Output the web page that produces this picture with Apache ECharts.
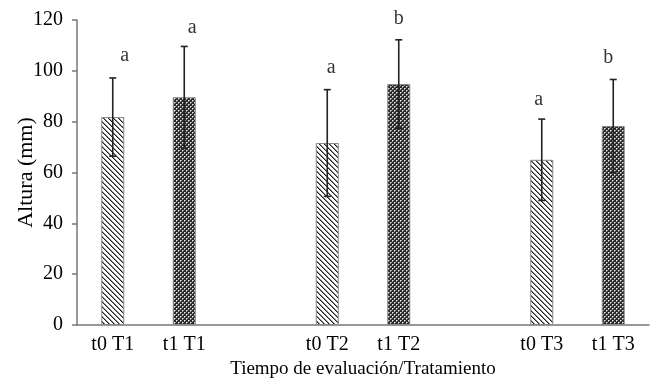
<!DOCTYPE html>
<html>
<head>
<meta charset="utf-8">
<script src="https://cdn.jsdelivr.net/npm/echarts@6/dist/echarts.min.js"></script>
<style>html,body{margin:0;padding:0;background:#fff}#c{width:652px;height:380px}</style>
</head>
<body>
<div id="c"></div>
<script>
// ---- data ----
const categories = ['t0 T1', 't1 T1', '', 't0 T2', 't1 T2', '', 't0 T3', 't1 T3'];
const means = [81.8, 89.6, null, 71.6, 94.8, null, 65.0, 78.3];
const sds = [15.4, 20.0, null, 21.0, 17.4, null, 16.0, 18.3];
const letters = ['a', 'a', '', 'a', 'b', '', 'a', 'b'];
const letterY = [105.9, 116.9, null, 101.1, 120.3, null, 88.6, 105.1];
const yTicks = [0, 20, 40, 60, 80, 100, 120];

// ---- styles ----
const labelDx = [12, 8, 0, 4, 0, 0, -3, -5];
const FONT = 'Liberation Serif';

function hatch() {
  const n = 5;
  const c = document.createElement('canvas');
  c.width = n; c.height = n;
  const g = c.getContext('2d');
  g.fillStyle = '#fff'; g.fillRect(0, 0, n, n);
  for (let i = 0; i < n; i++) {
    g.fillStyle = '#222'; g.fillRect(i, i, 1, 1);
    g.fillStyle = '#888'; g.fillRect((i + 1) % n, i, 1, 1);
  }
  return c;
}
function cross() {
  const c = document.createElement('canvas');
  c.width = 4; c.height = 4;
  const g = c.getContext('2d');
  g.fillStyle = '#2a2a2a'; g.fillRect(0, 0, 4, 4);
  g.fillStyle = '#e8e8e8';
  g.fillRect(0, 0, 1, 1); g.fillRect(2, 2, 1, 1);
  g.fillStyle = '#999';
  g.fillRect(1, 0, 1, 1); g.fillRect(0, 1, 1, 1); g.fillRect(3, 2, 1, 1); g.fillRect(2, 3, 1, 1);
  return c;
}
const hatchPat = { image: hatch(), repeat: 'repeat' };
const crossPat = { image: cross(), repeat: 'repeat' };

const barData = means.map((v, i) => v == null ? null : {
  value: v,
  itemStyle: { color: categories[i].startsWith('t0') ? hatchPat : crossPat }
});
const errData = means.map((v, i) => v == null ? null : [i, v - sds[i], v + sds[i]]).filter(d => d);
const letterData = letterY.map((v, i) => v == null ? null : {
  value: [i, v],
  label: { offset: [labelDx[i], 0], formatter: letters[i] }
}).filter(d => d);

const chart = echarts.init(document.getElementById('c'), null, { renderer: 'canvas' });
chart.setOption({
  animation: false,
  backgroundColor: '#fff',
  grid: { left: 77, right: 3, top: 20, bottom: 55, containLabel: false, outerBoundsMode: 'none' },
  xAxis: {
    type: 'category',
    data: categories,
    name: 'Tiempo de evaluación/Tratamiento',
    nameLocation: 'middle',
    nameGap: 32,
    nameTextStyle: { fontFamily: FONT, fontSize: 19, color: '#000' },
    axisLine: { lineStyle: { color: '#777', width: 1.5 } },
    axisTick: { show: false },
    axisLabel: { interval: 0, fontFamily: FONT, fontSize: 20, color: '#000', margin: 10 }
  },
  yAxis: {
    type: 'value',
    min: yTicks[0], max: yTicks[yTicks.length - 1], interval: yTicks[1] - yTicks[0],
    name: 'Altura (mm)',
    nameLocation: 'middle',
    nameGap: 40,
    nameMoveOverlap: false,
    nameTextStyle: { fontFamily: FONT, fontSize: 22, color: '#000' },
    axisLine: { show: true, lineStyle: { color: '#777', width: 1.5 } },
    axisTick: { show: true, length: 5, lineStyle: { color: '#777', width: 1.5 } },
    splitLine: { show: false },
    axisLabel: { fontFamily: FONT, fontSize: 20, color: '#000', margin: 14 }
  },
  series: [
    {
      type: 'bar',
      data: barData,
      barWidth: 23,
      itemStyle: { borderColor: '#888', borderWidth: 1 },
      z: 2
    },
    {
      type: 'custom',
      data: errData,
      z: 5,
      renderItem: function (params, api) {
        const x = api.value(0);
        const lo = api.coord([x, api.value(1)]);
        const hi = api.coord([x, api.value(2)]);
        const w = 3.5;
        const st = { stroke: '#222', lineWidth: 1.6 };
        return {
          type: 'group',
          children: [
            { type: 'line', shape: { x1: hi[0], y1: hi[1], x2: lo[0], y2: lo[1] }, style: st },
            { type: 'line', shape: { x1: hi[0] - w, y1: hi[1], x2: hi[0] + w, y2: hi[1] }, style: st },
            { type: 'line', shape: { x1: lo[0] - w, y1: lo[1], x2: lo[0] + w, y2: lo[1] }, style: st }
          ]
        };
      }
    },
    {
      type: 'scatter',
      data: letterData,
      symbolSize: 0,
      clip: false,
      z: 6,
      label: {
        show: true, position: 'inside',
        fontFamily: FONT, fontSize: 20, color: '#000'
      }
    }
  ]
});
</script>
</body>
</html>
